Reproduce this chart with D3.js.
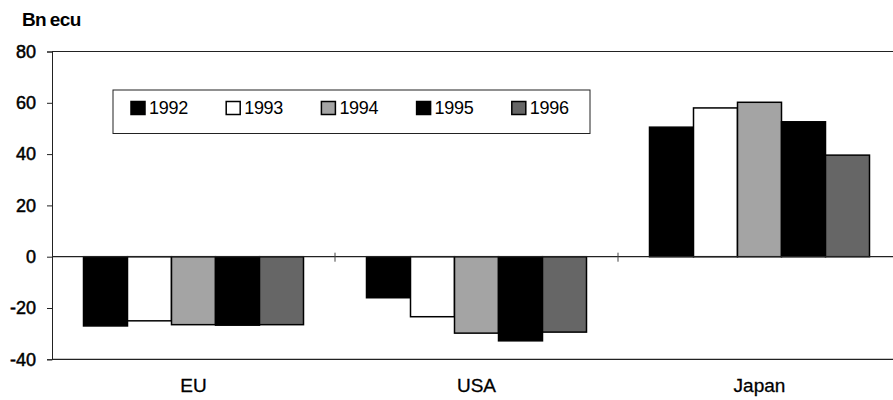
<!DOCTYPE html>
<html>
<head>
<meta charset="utf-8">
<script src="https://cdn.jsdelivr.net/npm/d3@7"></script>
<style>
  body { margin: 0; background: #fff; }
  svg { font-family: Arial, "Liberation Sans", sans-serif; }
</style>
</head>
<body>
<svg width="893" height="400"></svg>
<script>
// values, Bn ecu
var regions = ["EU", "USA", "Japan"];
var years = ["1992", "1993", "1994", "1995", "1996"];
var eu = [-27, -25, -26.5, -26.7, -26.5];
var usa = [-16, -23.4, -29.8, -32.8, -29.4];
var japan = [50.5, 58, 60.2, 52.6, 39.6];
var yTicks = [80, 60, 40, 20, 0, -20, -40];

var fills = ["#000", "#fff", "#a4a4a4", "#000", "#666"];

var rows = [eu, usa, japan].map(function (vals, i) {
  return { region: regions[i], values: vals };
});

var svg = d3.select("svg"),
  width = +svg.attr("width"),
  height = +svg.attr("height");

var margin = { top: 51.5, left: 52, bottom: 40.7 };
var plotW = 849; // right border runs off the picture
var plotH = height - margin.top - margin.bottom;

var g = svg.append("g")
  .attr("transform", "translate(" + margin.left + "," + margin.top + ")");

var y = d3.scaleLinear().domain([-40, 80]).range([plotH, 0]);

var x0 = d3.scaleBand().domain(regions).range([0, plotW]);
var groupPad = (x0.bandwidth() - 220) / 2;
var x1 = d3.scaleBand().domain(years)
  .range([groupPad, x0.bandwidth() - groupPad]);

// frame: top and bottom lines
g.append("line")
  .attr("x1", 0).attr("x2", plotW)
  .attr("y1", y(80)).attr("y2", y(80))
  .attr("stroke", "#222").attr("stroke-width", 1);
g.append("line")
  .attr("x1", 0).attr("x2", plotW)
  .attr("y1", y(-40)).attr("y2", y(-40))
  .attr("stroke", "#222").attr("stroke-width", 1.2);

// y axis
var yAxis = g.append("g")
  .call(d3.axisLeft(y).tickValues(yTicks).tickSize(5).tickPadding(11)
    .tickFormat(function (d) { return String(d); }));
yAxis.selectAll("path, line").attr("stroke", "#222");
yAxis.selectAll("text")
  .attr("font-size", "18px")
  .attr("fill", "#000")
  .attr("stroke", "#000")
  .attr("stroke-width", 0.5)
  .attr("font-family", "Arial, 'Liberation Sans', sans-serif");

// bars
var grp = g.selectAll(".region")
  .data(rows)
  .enter()
  .append("g")
  .attr("class", "region")
  .attr("transform", function (d) { return "translate(" + x0(d.region) + ",0)"; });

grp.selectAll("rect")
  .data(function (d) { return d.values; })
  .enter()
  .append("rect")
  .attr("x", function (d, i) { return x1(years[i]); })
  .attr("width", x1.bandwidth())
  .attr("y", function (d) { return y(Math.max(0, d)); })
  .attr("height", function (d) { return Math.abs(y(d) - y(0)); })
  .attr("fill", function (d, i) { return fills[i]; })
  .attr("stroke", "#000")
  .attr("stroke-width", 1.5);

// category axis along the zero line, ticks at the boundaries
g.append("line")
  .attr("x1", 0).attr("x2", plotW)
  .attr("y1", y(0)).attr("y2", y(0))
  .attr("stroke", "#222").attr("stroke-width", 1.2);

g.selectAll(".sep")
  .data(regions.slice(1))
  .enter()
  .append("line")
  .attr("class", "sep")
  .attr("x1", function (d) { return x0(d); })
  .attr("x2", function (d) { return x0(d); })
  .attr("y1", y(0) - 4).attr("y2", y(0) + 5)
  .attr("stroke", "#444");

g.selectAll(".cat")
  .data(regions)
  .enter()
  .append("text")
  .attr("class", "cat")
  .attr("x", function (d) { return x0(d) + x0.bandwidth() / 2; })
  .attr("y", y(-40) + 33)
  .attr("text-anchor", "middle")
  .attr("font-size", "19px")
  .attr("stroke", "#000")
  .attr("stroke-width", 0.3)
  .text(function (d) { return d; });

// unit label
svg.append("text")
  .attr("x", 22).attr("y", 26)
  .attr("font-size", "19px")
  .attr("font-weight", "bold")
  .attr("letter-spacing", "-0.6px")
  .attr("word-spacing", "-1px")
  .text("Bn ecu");

// legend
var legend = svg.append("g").attr("transform", "translate(113,90)");
legend.append("rect")
  .attr("width", 477).attr("height", 43.5)
  .attr("fill", "#fff")
  .attr("stroke", "#222");

var item = legend.selectAll(".item")
  .data(years)
  .enter()
  .append("g")
  .attr("class", "item")
  .attr("transform", function (d, i) { return "translate(" + (18 + i * 95.2) + ",0)"; });

item.append("rect")
  .attr("x", 0).attr("y", 11.5)
  .attr("width", 14).attr("height", 13)
  .attr("fill", function (d, i) { return fills[i]; })
  .attr("stroke", "#000")
  .attr("stroke-width", 1.5);

item.append("text")
  .attr("x", 18).attr("y", 23.5)
  .attr("font-size", "18px")
  .attr("letter-spacing", "-0.3px")
  .text(function (d) { return d; });
</script>
</body>
</html>
